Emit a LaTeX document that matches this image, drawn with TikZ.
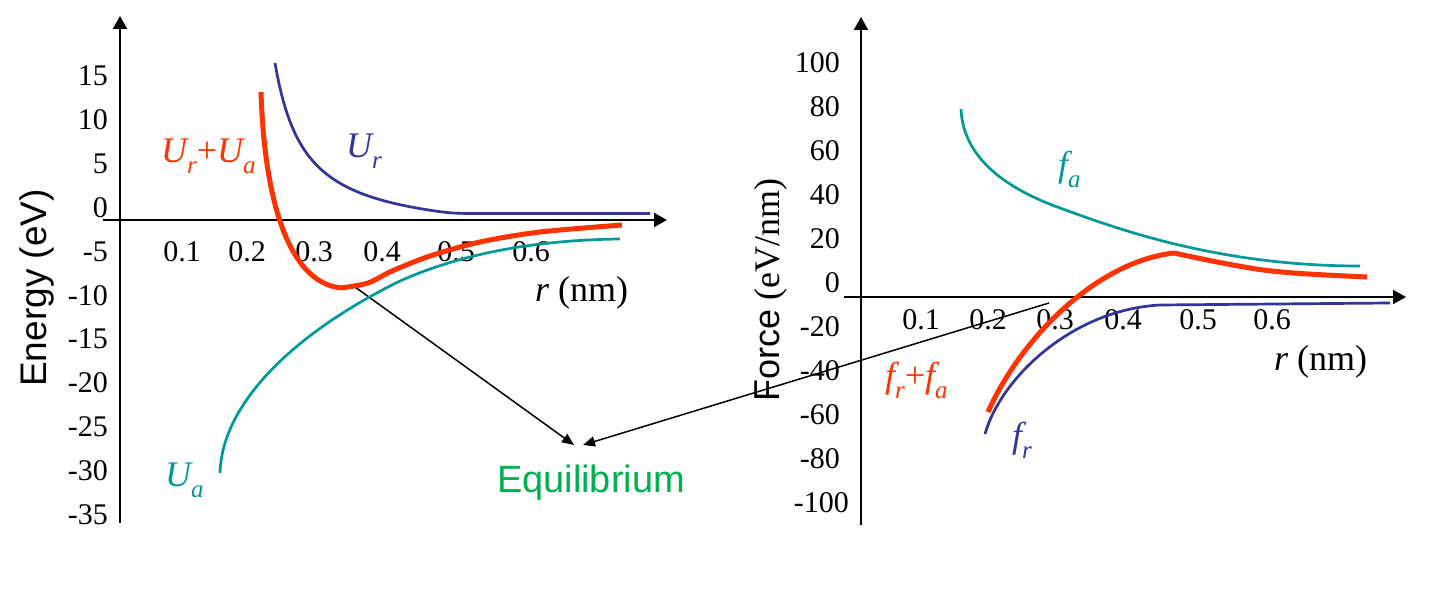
\documentclass[tikz,border=0pt]{standalone}
\usepackage{fontspec}
\setmainfont{Liberation Serif}
\newfontfamily\arialfont{Liberation Sans}
\usetikzlibrary{arrows.meta}
\definecolor{cRed}{RGB}{255,51,0}
\definecolor{cBlue}{RGB}{51,51,153}
\definecolor{cTeal}{RGB}{0,153,153}
\definecolor{cGreen}{RGB}{0,176,80}
\newcommand\lsub[1]{\raisebox{-0.3em}{\fontsize{25}{25}\selectfont\itshape #1}}
\begin{document}
\begin{tikzpicture}[x=1pt,y=-1pt,
  axisline/.style={line width=2pt,-{Triangle[length=13pt,width=14pt]}},
  tick/.style={font=\fontsize{30}{30}\selectfont,inner sep=0pt},
  ytick/.style={tick,anchor=east},
  xtick/.style={tick,anchor=center},
  lab/.style={font=\fontsize{36}{36}\selectfont\itshape,inner sep=0pt,anchor=base west},
  curveB/.style={cBlue,line width=2.7pt},
  curveT/.style={cTeal,line width=2.7pt},
  curveR/.style={cRed,line width=5pt},
  pointer/.style={line width=1.5pt,-{Triangle[length=12pt,width=10pt]}}]
\useasboundingbox (0,0) rectangle (1452,593);
\fill[white] (0,0) rectangle (1452,593);

% ---------- left plot axes
\coordinate (LxS) at (103,220);
\coordinate (LxE) at (667,220);
\coordinate (LyS) at (120,523);
\coordinate (LyE) at (120,16);
\draw[axisline] (LxS) -- (LxE);
\draw[axisline] (LyS) -- (LyE);
\foreach \v [count=\i] in {15,10,5,0,-5,-10,-15,-20,-25,-30,-35}
  \node[ytick] (ly\i) at (108,{207.5-8.78*\v}) {\v};
\foreach \v/\x [count=\i] in {0.1/182,0.2/247,0.3/314,0.4/382,0.5/456,0.6/531}
  \node[xtick] (lx\i) at (\x,252) {\v};
\node[rotate=90,inner sep=0pt,font=\arialfont\fontsize{37}{37}\selectfont] (lyl) at (37,288) {Energy (eV)};

% ---------- right plot axes
\coordinate (RxS) at (844,297);
\coordinate (RxE) at (1406,297);
\coordinate (RyS) at (861,525);
\coordinate (RyE) at (861,17);
\draw[axisline] (RxS) -- (RxE);
\draw[axisline] (RyS) -- (RyE);
\foreach \v [count=\i] in {100,80,60,40,20,0,-20,-40,-60,-80}
  \node[ytick] (ry\i) at (840,{283-2.2*\v}) {\v};
\node[ytick] (ry11) at (849,503) {-100};
\foreach \v/\x [count=\i] in {0.1/921,0.2/988,0.3/1055,0.4/1123,0.5/1198,0.6/1272}
  \node[xtick] (rx\i) at (\x,320) {\v};
\node[rotate=90,inner sep=0pt,font=\fontsize{36}{36}\selectfont] (ryl) at (771,290) {{\arialfont Force} (eV/nm)};

% ---------- equilibrium pointers
\node[inner sep=0pt,font=\arialfont\fontsize{38}{38}\selectfont,text=cGreen] (eq) at (591,483) {Equilibrium};
\coordinate (eMin) at (355,287);
\coordinate (fZero) at (1049,303);
\coordinate (tipL) at (574,445);
\coordinate (tipR) at (583,445);
\draw[pointer] (eMin) -- (tipL);
\draw[pointer] (fZero) -- (tipR);

% ---------- left curves
\draw[curveT] (220,473) .. controls (222,400) and (300,330) .. (400,281)
              .. controls (465,252) and (540,240) .. (620,239);
\draw[curveB] plot[domain=275:440,samples=80] (\x,{238.7-5270/(\x-245)})
              .. controls (455,213.75) and (465,213.5) .. (490,213.5) -- (650,213.5);
\draw[curveR] (261,92) .. controls (264,190) and (285,282) .. (341,288);
\draw[curveR] plot[smooth] coordinates {(341,288) (368,283) (392,271) (430,256) (480,242) (540,232) (622,225)};

% ---------- right curves
\draw[curveT] (961,109) .. controls (963,160) and (1010,190) .. (1060,208)
              .. controls (1120,230) and (1220,266) .. (1360,266);
\draw[curveB] (985,434) .. controls (1000,380) and (1070,310) .. (1160,305) -- (1390,303);
\draw[curveR] (988,412) .. controls (1020,340) and (1095,262) .. (1174,253);
\draw[curveR] plot[smooth] coordinates {(1174,253) (1217,262) (1263,270) (1308,274) (1367,277)};

% ---------- curve labels
\node[lab,text=cRed] (lUsum) at (161,163) {U\lsub{r}{\upshape +}U\lsub{a}};
\node[lab,text=cBlue] (lUr) at (346,158) {U\lsub{r}};
\node[lab,text=cTeal] (lUa) at (165,487) {U\lsub{a}};
\node[lab] (lrL) at (535,302) {r {\upshape (nm)}};
\node[lab,text=cTeal] (lfa) at (1058,177) {f\lsub{a}};
\node[lab,text=cRed] (lfsum) at (885,388) {f\lsub{r}{\upshape +}f\lsub{a}};
\node[lab,text=cBlue] (lfr) at (1012,448) {f\lsub{r}};
\node[lab] (lrR) at (1274,371) {r {\upshape (nm)}};
\end{tikzpicture}
\end{document}
